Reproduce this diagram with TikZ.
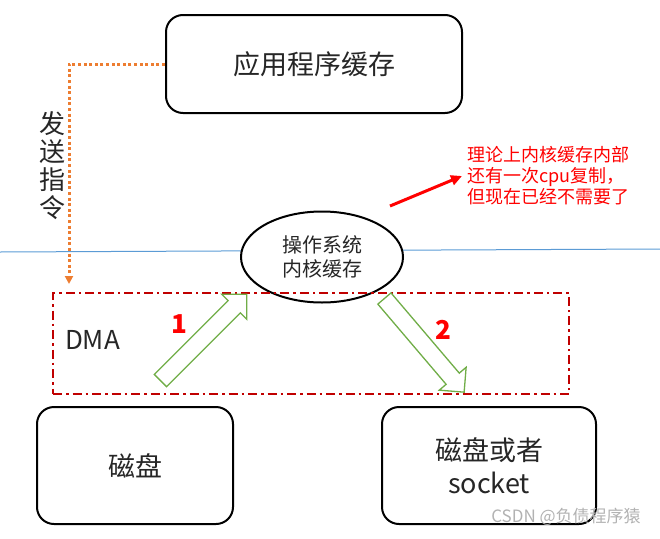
\documentclass[tikz,border=0pt]{standalone}
\usepackage{fontspec}
\setmainfont{Noto Sans CJK SC}
\usetikzlibrary{arrows.meta, shapes.geometric, shapes.arrows}
\definecolor{cdark}{HTML}{262626}
\definecolor{cred}{HTML}{FF0000}
\definecolor{cdmared}{HTML}{C00000}
\definecolor{corange}{HTML}{ED7D31}
\definecolor{cgreen}{HTML}{70AD47}
\definecolor{cblue}{HTML}{5B9BD5}
\tikzset{
  every picture/.style={line width=2pt},
  box/.style={draw=black, rounded corners=17pt, align=center, text=cdark, font=\fontsize{27}{33}\selectfont},
  copyarrow/.style={single arrow, draw=cgreen, fill=white, line width=1.3pt, inner sep=0pt, inner ysep=8pt,
                    single arrow head extend=9pt, single arrow tip angle=90, minimum height=#1},
  note/.style={text=cred, align=left, inner sep=0pt, font=\fontsize{18}{21}\selectfont},
}

\begin{document}
\begin{tikzpicture}[x=1pt, y=-1pt,
                    oval/.style={ellipse, draw=black, fill=white, align=center, text=cdark, inner sep=0pt,
                                 font=\fontsize{20}{24}\selectfont, minimum width=162pt, minimum height=91pt},
                    cmd/.style={draw=corange, line width=3pt, dash pattern=on 3pt off 2.6pt, -{Triangle[length=8pt, width=8pt]}},
                    notearrow/.style={draw=cred, line width=3pt, -{Triangle[length=11pt, width=10pt]}},
                    dmazone/.style={draw=cdmared, line width=2.2pt, dash pattern=on 9pt off 4pt on 2.5pt off 4pt},
                    sea/.style={draw=cblue, line width=1pt},
                    stepno/.style={text=cred, font=\fontsize{26}{26}\selectfont\bfseries}]
  \useasboundingbox (0,0) rectangle (660,538);
  \coordinate (seaL) at (0,252);
  \coordinate (seaR) at (660,249);
  \draw[sea] (seaL) -- (seaR);
  \node[box, minimum width=296pt, minimum height=98pt] (app) at (314,64) {应用程序缓存};
  \node[oval] (kernel) at (322,257) {操作系统\\内核缓存};
  \node[font=\fontsize{26}{28}\selectfont, align=center, text=cdark] (cmdlabel) at (52,166) {发\\送\\指\\令};
  \coordinate (cmdend) at (69,284);
  \draw[cmd] (app.west) -| (cmdend);
  \node[note, anchor=west] (note) at (466,176) {理论上内核缓存内部\\还有一次cpu复制，\\但现在已经不需要了};
  \coordinate (notefrom) at (390,206);
  \draw[notearrow] (notefrom) -- ([xshift=-4pt]note.west);
  % DMA region
  \node[dmazone, minimum width=516pt, minimum height=101pt] (dma) at (311,343.5) {};
  \node[font=\fontsize{26}{30}\selectfont, anchor=west, inner sep=0pt, text=cdark] (dmalabel) at (64,340) {DMA};
  \node[box, minimum width=196pt, minimum height=117pt] (disk) at (135,465.5) {磁盘};
  \node[box, minimum width=214pt, minimum height=117pt] (sock) at (489,465.5) {磁盘或者\\socket};
  % copies done by DMA
  \node[copyarrow=122pt, rotate=45, anchor=tail] (copy1) at (160,381) {};
  \node[copyarrow=123pt, rotate=-49.6, anchor=tail] (copy2) at (384,298) {};
  \node[stepno] (n1) at (179,324) {1};
  \node[stepno] (n2) at (443,330) {2};
  \node[font=\fontsize{17}{17}\selectfont, text=black!30, anchor=east] (mark) at (645,517) {CSDN @负债程序猿};
\end{tikzpicture}
\end{document}
